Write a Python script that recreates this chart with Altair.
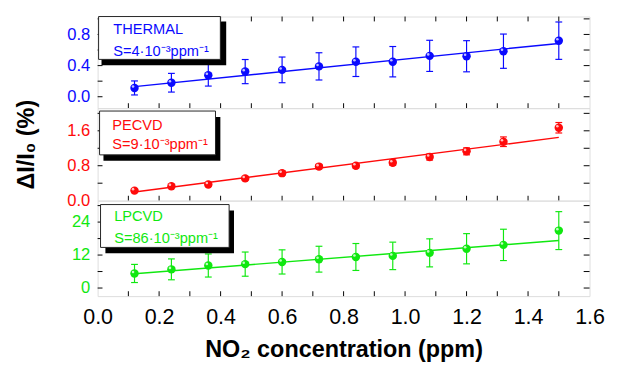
import altair as alt
import pandas as pd

FONT = "Liberation Sans"

# ---------------- data ----------------
conc = [0.12, 0.24, 0.36, 0.48, 0.60, 0.72, 0.84, 0.96, 1.08, 1.20, 1.32, 1.50]

thermal = [0.113, 0.18, 0.277, 0.323, 0.345, 0.39, 0.45, 0.45, 0.525, 0.52, 0.585, 0.72]
thermal_err = [0.09, 0.12, 0.14, 0.155, 0.165, 0.175, 0.19, 0.195, 0.2, 0.2, 0.22, 0.24]

pecvd = [0.23, 0.33, 0.37, 0.51, 0.63, 0.78, 0.80, 0.87, 1.00, 1.13, 1.35, 1.67]
pecvd_err = [0.03, 0.03, 0.04, 0.04, 0.05, 0.05, 0.05, 0.06, 0.07, 0.08, 0.11, 0.12]

lpcvd = [5.3, 6.8, 8.2, 8.7, 9.5, 10.5, 11.3, 11.7, 12.8, 14.3, 15.7, 20.9]
lpcvd_err = [3.3, 3.8, 4.2, 4.4, 4.4, 4.7, 4.9, 5.0, 5.1, 5.5, 5.7, 6.9]

fit_x = [0.12, 1.50]
thermal_fit = [0.13, 0.685]
pecvd_fit = [0.20, 1.45]
lpcvd_fit = [5.2, 17.3]

x_labels = [0.0, 0.2, 0.4, 0.6, 0.8, 1.0, 1.2, 1.4, 1.6]
x_ticks = [0.1, 0.2, 0.3, 0.4, 0.5, 0.6, 0.7, 0.8, 0.9, 1.0, 1.1, 1.2, 1.3, 1.4, 1.5]

thermal_labels = [0.0, 0.4, 0.8]
thermal_ticks = [0.0, 0.2, 0.4, 0.6, 0.8, 1.0]
pecvd_labels = [0.0, 0.8, 1.6]
pecvd_ticks = [0.4, 0.8, 1.2, 1.6, 2.0]
lpcvd_labels = [0, 12, 24]
lpcvd_ticks = [0, 6, 12, 18, 24, 30]

names = ["THERMAL", "PECVD", "LPCVD"]
slopes = ["S=4·10⁻³ppm⁻¹", "S=9·10⁻³ppm⁻¹", "S=86·10⁻³ppm⁻¹"]

BLUE = "#0a0aff"
RED = "#ff0a0a"
GREEN = "#10e810"

W = 505


def panel(vals, errs, fit, color, ydom, ylabels, yticks, yfmt, height,
          name, slope, box, shadow, text_x, text_y, bottom=False, top=False,
          ytitle=None):
    df = pd.DataFrame({
        "x": conc, "y": vals,
        "lo": [v - e for v, e in zip(vals, errs)],
        "hi": [v + e for v, e in zip(vals, errs)],
    })
    fdf = pd.DataFrame({"x": fit_x, "y": fit})
    xs = alt.Scale(domain=[0, 1.6], nice=False, zero=False)
    ys = alt.Scale(domain=ydom, nice=False, zero=False)
    if bottom:
        xaxis = alt.Axis(values=x_labels, format=".1f", labelFontSize=22,
                         labelColor="black", ticks=False, domain=False,
                         grid=False, labelPadding=11, labelFlush=False,
                         labelOverlap=False,
                         title="NO₂ concentration (ppm)", titleFontSize=24,
                         titleFontWeight="bold", titlePadding=11,
                         titleColor="black")
    else:
        xaxis = None
    yax = dict(values=ylabels, format=yfmt, labelFontSize=17,
               labelColor=color, ticks=False, domain=False, grid=False,
               labelPadding=8, labelFlush=False, labelOverlap=False)
    if ytitle:
        yax.update(title=ytitle, titleFontSize=24, titleFontWeight="bold",
                   titleColor="black", titleX=-66, titleY=37,
                   titleAngle=270, titleAlign="center",
                   titleBaseline="alphabetic")
    else:
        yax.update(title=None)
    yaxis = alt.Axis(**yax)

    def X(f):
        return alt.X(f, type="quantitative", scale=xs, axis=xaxis)

    def Y(f):
        return alt.Y(f, type="quantitative", scale=ys, axis=yaxis)

    base = alt.Chart(df)
    err = base.mark_rule(color=color, strokeWidth=1.2).encode(
        x=X("x"), y=Y("lo"), y2="hi")
    cap_lo = base.mark_tick(orient="horizontal", size=7, thickness=1.2,
                            color=color, opacity=1).encode(x=X("x"), y=Y("lo"))
    cap_hi = base.mark_tick(orient="horizontal", size=7, thickness=1.2,
                            color=color, opacity=1).encode(x=X("x"), y=Y("hi"))
    line = alt.Chart(fdf).mark_line(color=color, strokeWidth=1.5).encode(
        x=X("x"), y=Y("y"))
    pts = base.mark_circle(size=75, color=color, opacity=1).encode(
        x=X("x"), y=Y("y"))
    hl = base.mark_circle(size=7, color="white", opacity=0.75,
                          xOffset=-1.5, yOffset=-1.5).encode(x=X("x"), y=Y("y"))

    ydf = pd.DataFrame({"v": yticks})
    xdf = pd.DataFrame({"v": x_ticks})
    yl = alt.Chart(ydf).mark_rule(color="black", strokeWidth=1).encode(
        y=Y("v"), x=alt.value(0), x2=alt.value(5))
    yr = alt.Chart(ydf).mark_rule(color="black", strokeWidth=1).encode(
        y=Y("v"), x=alt.value(W), x2=alt.value(W - 6))
    xb = alt.Chart(xdf).mark_rule(color="black", strokeWidth=1).encode(
        x=X("v"), y=alt.value(height), y2=alt.value(height - 5))
    layers = [err, cap_lo, cap_hi, line, pts, hl, yl, yr, xb]
    if top:
        xt = alt.Chart(xdf).mark_rule(color="black", strokeWidth=1).encode(
            x=X("v"), y=alt.value(0), y2=alt.value(5))
        layers.append(xt)

    one = pd.DataFrame({"a": [0]})
    sh = alt.Chart(one).mark_rect(color="black").encode(
        x=alt.value(shadow[0]), x2=alt.value(shadow[1]),
        y=alt.value(shadow[2]), y2=alt.value(shadow[3]))
    bx = alt.Chart(one).mark_rect(fill="white", stroke="#222222",
                                  strokeWidth=1).encode(
        x=alt.value(box[0]), x2=alt.value(box[1]),
        y=alt.value(box[2]), y2=alt.value(box[3]))
    t1 = alt.Chart(one).mark_text(align="left", baseline="alphabetic",
                                  fontSize=15, color=color).encode(
        x=alt.value(text_x), y=alt.value(text_y[0]), text=alt.value(name))
    t2 = alt.Chart(one).mark_text(align="left", baseline="alphabetic",
                                  fontSize=15, color=color).encode(
        x=alt.value(text_x), y=alt.value(text_y[1]), text=alt.value(slope))
    layers += [sh, bx, t1, t2]
    return alt.layer(*layers).properties(width=W, height=height)


p1 = panel(thermal, thermal_err, thermal_fit, BLUE, [-0.146, 1.03],
           thermal_labels, thermal_ticks, ".1f", 94,
           names[0], slopes[0], box=(1, 126, 0, 44), shadow=(4, 132, 5, 50),
           text_x=16, text_y=(18, 40), top=True)
p2 = panel(pecvd, pecvd_err, pecvd_fit, RED, [0, 2.12],
           pecvd_labels, pecvd_ticks, ".1f", 95,
           names[1], slopes[1], box=(2, 121, 3, 48), shadow=(6, 126, 9, 54),
           text_x=15, text_y=(22, 42), ytitle="ΔI/I₀ (%)")
p3 = panel(lpcvd, lpcvd_err, lpcvd_fit, GREEN, [-2.94, 31.8],
           lpcvd_labels, lpcvd_ticks, "d", 98,
           names[2], slopes[2], box=(3, 135, 4, 48), shadow=(8, 140, 10, 54),
           text_x=17, text_y=(21, 43), bottom=True)

chart = alt.vconcat(p1, p2, p3, spacing=0, bounds="flush").properties(
    padding={"left": 6, "top": 3, "right": 5, "bottom": 0}
).configure_view(
    stroke="black", strokeWidth=2
).configure(font=FONT)

chart.save("out.html", embed_options={"renderer": "svg", "actions": False})
